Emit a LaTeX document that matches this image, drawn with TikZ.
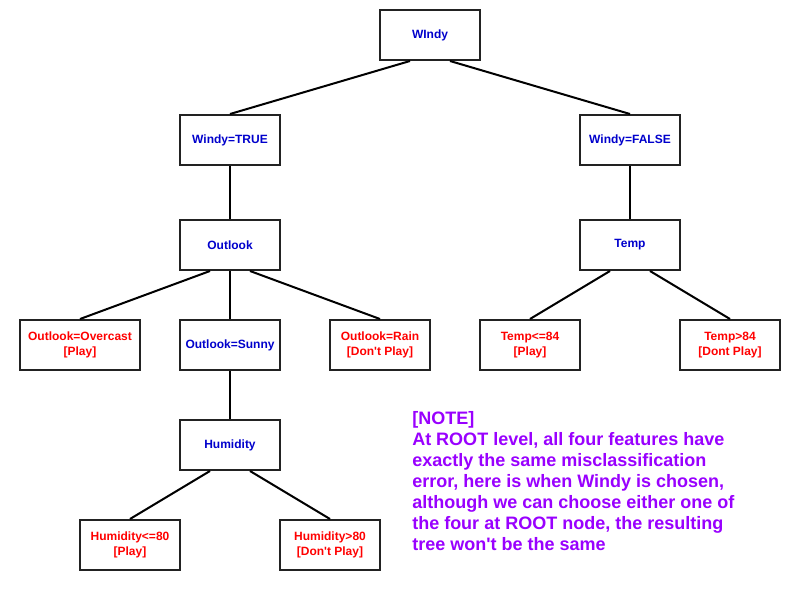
\documentclass[tikz,border=0pt]{standalone}
\usepackage{fontspec}
\setmainfont{Liberation Sans}
\usetikzlibrary{calc}
\definecolor{nblue}{HTML}{0000CC}
\definecolor{nred}{HTML}{FF0000}
\definecolor{npurple}{HTML}{9900FF}
\definecolor{nborder}{HTML}{222222}
\newcommand{\apo}{\textquotesingle}
\begin{document}
\begin{tikzpicture}[x=0.75pt,y=-0.75pt,
  box/.style={draw=nborder,line width=1.5pt,fill=white,minimum width=75pt,minimum height=37.5pt,
    inner sep=0pt,align=center,font=\bfseries\fontsize{9}{11.25}\selectfont},
  inner/.style={box,text=nblue},
  leaf/.style={box,text=nred},
  conn/.style={draw=black,line width=1.5pt}]
\useasboundingbox (0,0) rectangle (800,590);
\node[inner] (w) at (430,35) {WIndy};
\node[inner] (wt) at (230,140) {Windy=TRUE};
\node[inner] (wf) at (630,140) {Windy=FALSE};
\node[inner] (o) at (230,245) {Outlook};
\node[inner] (t) at (630,245) {Temp};
\node[leaf,minimum width=90pt] (oo) at (80,345) {Outlook=Overcast\\{}[Play]};
\node[inner] (os) at (230,345) {Outlook=Sunny};
\node[leaf] (or) at (380,345) {Outlook=Rain\\{}[Don\apo t Play]};
\node[leaf] (tl) at (530,345) {Temp<=84\\{}[Play]};
\node[leaf] (tg) at (730,345) {Temp>84\\{}[Dont Play]};
\node[inner] (h) at (230,445) {Humidity};
\node[leaf] (hl) at (130,545) {Humidity<=80\\{}[Play]};
\node[leaf] (hg) at (330,545) {Humidity>80\\{}[Don\apo t Play]};
\draw[conn] ($(w.south)+(-20,0)$) -- (wt.north);
\draw[conn] ($(w.south)+(20,0)$) -- (wf.north);
\draw[conn] (wt.south) -- (o.north);
\draw[conn] (wf.south) -- (t.north);
\draw[conn] ($(o.south)+(-20,0)$) -- (oo.north);
\draw[conn] (o.south) -- (os.north);
\draw[conn] ($(o.south)+(20,0)$) -- (or.north);
\draw[conn] ($(t.south)+(-20,0)$) -- (tl.north);
\draw[conn] ($(t.south)+(20,0)$) -- (tg.north);
\draw[conn] (os.south) -- (h.north);
\draw[conn] ($(h.south)+(-20,0)$) -- (hl.north);
\draw[conn] ($(h.south)+(20,0)$) -- (hg.north);
\node[anchor=base west,inner sep=0pt,align=left,text=npurple,
  font=\bfseries\fontsize{13.5}{15.75}\selectfont] (note) at (412,550)
  {[NOTE]\\At ROOT level, all four features have\\exactly the same misclassification\\error, here is when Windy is chosen,\\although we can choose either one of\\the four at ROOT node, the resulting\\tree won\apo t be the same};
\end{tikzpicture}
\end{document}
